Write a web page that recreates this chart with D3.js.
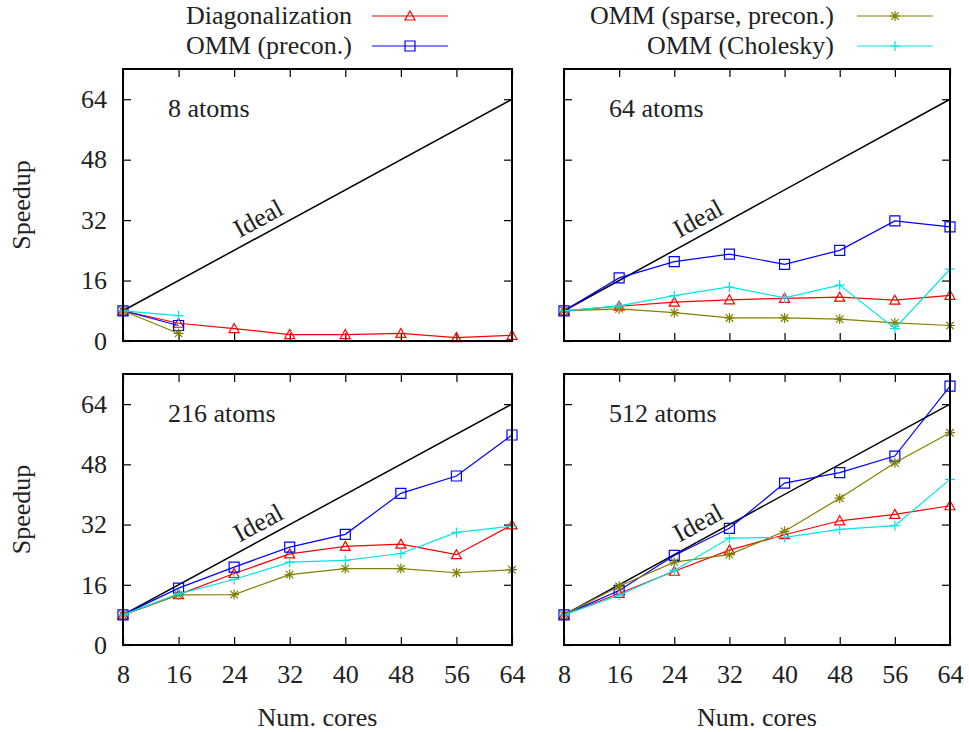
<!DOCTYPE html>
<html>
<head>
<meta charset="utf-8">
<script src="https://cdn.jsdelivr.net/npm/d3@7"></script>
<style>
  body { margin: 0; background: white; }
  text { font-family: "Liberation Serif", "Times New Roman", serif; font-size: 26px; fill: #222; }
</style>
</head>
<body>
<div id="chart"></div>
<script>
// data
var cores = [8, 16, 24, 32, 40, 48, 56, 64];
var yTicks = [0, 16, 32, 48, 64];
var panelTitles = ["8 atoms", "64 atoms", "216 atoms", "512 atoms"];
var seriesNames = ["Diagonalization", "OMM (precon.)", "OMM (sparse, precon.)", "OMM (Cholesky)"];

var diag8 = [8, 4.7, 3.3, 1.7, 1.7, 2.0, 0.9, 1.5];
var precon8 = [8, 4.1];
var sparse8 = [8, 2.0];
var chol8 = [8, 6.7];

var diag64 = [8, 9.2, 10.3, 10.9, 11.3, 11.6, 10.8, 12.1];
var precon64 = [8, 16.7, 21.0, 23.0, 20.3, 24.0, 31.8, 30.2];
var sparse64 = [8, 8.5, 7.5, 6.1, 6.1, 5.8, 4.8, 4.1];
var chol64 = [8, 9.3, 12.0, 14.3, 11.4, 14.8, 3.3, 19.0];

var diag216 = [8, 13.4, 19.0, 24.2, 26.2, 26.8, 24.0, 31.9];
var precon216 = [8, 15.1, 20.7, 26.0, 29.4, 40.3, 44.9, 55.8];
var sparse216 = [8, 13.3, 13.4, 18.7, 20.3, 20.3, 19.2, 20.0];
var chol216 = [8, 13.6, 17.4, 22.0, 22.5, 24.3, 29.9, 31.6];

var diag512 = [8, 13.7, 19.6, 25.2, 29.3, 33.0, 34.7, 37.0];
var precon512 = [8, 14.5, 23.8, 31.0, 43.0, 45.8, 50.2, 68.8];
var sparse512 = [8, 15.6, 22.0, 24.0, 30.2, 39.0, 48.4, 56.4];
var chol512 = [8, 13.2, 19.8, 28.4, 28.6, 30.7, 31.7, 44.0];

var panelData = [
    [diag8, precon8, sparse8, chol8],
    [diag64, precon64, sparse64, chol64],
    [diag216, precon216, sparse216, chol216],
    [diag512, precon512, sparse512, chol512]
];

var colors = ["#ff0000", "#0000ff", "#808000", "#00e5e5"];
var markers = ["triangle", "square", "star", "plus"];

var svg = d3.select("#chart")
    .append("svg")
    .attr("width", 969)
    .attr("height", 732);

// marker paths (open gnuplot style)
function markerPath(kind) {
    var r = 5;
    if (kind == "triangle") return "M0," + (-r) + "L" + r + "," + (r - 1) + "L" + (-r) + "," + (r - 1) + "Z";
    if (kind == "square") return "M" + (-r) + "," + (-r) + "h" + (2 * r) + "v" + (2 * r) + "h" + (-2 * r) + "Z";
    if (kind == "plus") return "M" + (-r) + ",0h" + (2 * r) + "M0," + (-r) + "v" + (2 * r);
    var d = r * 0.75;
    return "M" + (-r) + ",0h" + (2 * r) + "M0," + (-r) + "v" + (2 * r) +
        "M" + (-d) + "," + (-d) + "L" + d + "," + d + "M" + (-d) + "," + d + "L" + d + "," + (-d);
}

// panel frames in pixels
var cols = [[123, 512], [564, 950]];
var rows = [[341, 69], [645, 374]];

panelData.forEach(function(series, p) {
    var c = p % 2, r = Math.floor(p / 2);
    var x = d3.scaleLinear().domain([8, 64]).range(cols[c]);
    var y = d3.scaleLinear().domain([0, 72]).range(rows[r]);
    var g = svg.append("g");

    // ticks on all four sides, inward
    g.append("g")
        .attr("transform", "translate(0," + rows[r][0] + ")")
        .call(d3.axisBottom(x).tickValues(cores).tickSize(-8).tickPadding(20)
            .tickFormat(r == 1 ? d3.format("d") : ""));
    g.append("g")
        .attr("transform", "translate(0," + rows[r][1] + ")")
        .call(d3.axisTop(x).tickValues(cores).tickSize(-8).tickFormat(""));
    g.append("g")
        .attr("transform", "translate(" + cols[c][0] + ",0)")
        .call(d3.axisLeft(y).tickValues(yTicks).tickSize(-8).tickPadding(16)
            .tickFormat(c == 0 ? d3.format("d") : ""));
    g.append("g")
        .attr("transform", "translate(" + cols[c][1] + ",0)")
        .call(d3.axisRight(y).tickValues(yTicks).tickSize(-8).tickFormat(""));
    g.selectAll(".domain").remove();
    g.selectAll(".tick line").attr("stroke", "#000").attr("stroke-width", 1.2);
    g.selectAll(".tick text").attr("fill", "#222");

    // ideal speedup line
    g.append("path")
        .attr("d", d3.line().x(function(d) { return x(d); }).y(function(d) { return y(d); })([8, 64]))
        .attr("stroke", "#000")
        .attr("stroke-width", 1.5)
        .attr("fill", "none");
    var ang = Math.atan2(y(8) - y(64), x(64) - x(8)) * 180 / Math.PI;
    g.append("text")
        .attr("transform", "translate(" + x(28.6) + "," + y(28.6) + ") rotate(" + (-ang) + ")")
        .attr("y", -8)
        .attr("text-anchor", "middle")
        .text("Ideal");

    // data series
    series.forEach(function(vals, s) {
        var pts = vals.map(function(v, i) { return [cores[i], v]; });
        g.append("path")
            .attr("d", d3.line().x(function(d) { return x(d[0]); }).y(function(d) { return y(d[1]); })(pts))
            .attr("stroke", colors[s])
            .attr("stroke-width", 1.2)
            .attr("fill", "none");
        g.selectAll(null)
            .data(pts)
            .enter()
            .append("path")
            .attr("transform", function(d) { return "translate(" + x(d[0]) + "," + y(d[1]) + ")"; })
            .attr("d", markerPath(markers[s]))
            .attr("stroke", colors[s])
            .attr("stroke-width", 1.2)
            .attr("fill", "none");
    });

    // frame
    g.append("rect")
        .attr("x", cols[c][0])
        .attr("y", rows[r][1])
        .attr("width", cols[c][1] - cols[c][0])
        .attr("height", rows[r][0] - rows[r][1])
        .attr("fill", "none")
        .attr("stroke", "#000")
        .attr("stroke-width", 2);

    g.append("text")
        .attr("x", cols[c][0] + 45)
        .attr("y", rows[r][1] + 48)
        .text(panelTitles[p]);

    if (c == 0) {
        svg.append("text")
            .attr("transform", "translate(30," + ((rows[r][0] + rows[r][1]) / 2) + ") rotate(-90)")
            .attr("text-anchor", "middle")
            .text("Speedup");
    }
    if (r == 1) {
        svg.append("text")
            .attr("x", (cols[c][0] + cols[c][1]) / 2)
            .attr("y", 726)
            .attr("text-anchor", "middle")
            .text("Num. cores");
    }
});

// legend
var legendPos = [[352, 372, 16], [352, 372, 46], [834, 857, 16], [834, 857, 46]];
seriesNames.forEach(function(name, s) {
    var lp = legendPos[s];
    svg.append("text")
        .attr("x", lp[0])
        .attr("y", lp[2] + 8)
        .attr("text-anchor", "end")
        .text(name);
    svg.append("line")
        .attr("x1", lp[1])
        .attr("x2", lp[1] + 76)
        .attr("y1", lp[2])
        .attr("y2", lp[2])
        .attr("stroke", colors[s])
        .attr("stroke-width", 1.2);
    svg.append("path")
        .attr("transform", "translate(" + (lp[1] + 38) + "," + lp[2] + ")")
        .attr("d", markerPath(markers[s]))
        .attr("stroke", colors[s])
        .attr("stroke-width", 1.2)
        .attr("fill", "none");
});
</script>
</body>
</html>
